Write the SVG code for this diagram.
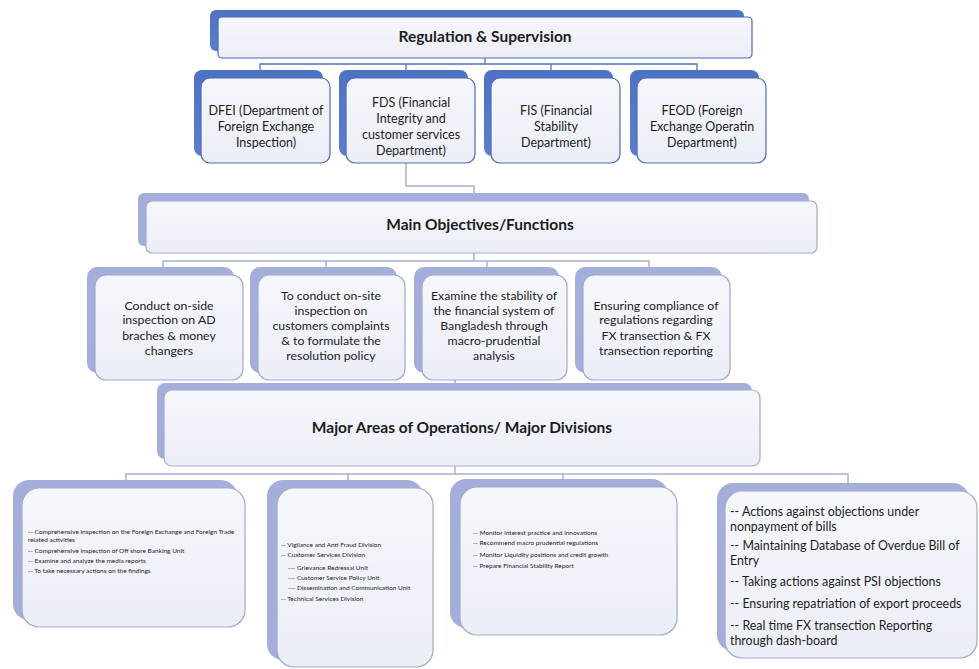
<svg xmlns="http://www.w3.org/2000/svg" width="979" height="669" viewBox="0 0 979 669">
<defs>
<linearGradient id="gf" x1="0" y1="0" x2="0" y2="1">
<stop offset="0" stop-color="#F6F7FC"/>
<stop offset="1" stop-color="#ECEEF7"/>
</linearGradient>
<linearGradient id="gs" x1="0" y1="0" x2="0" y2="1">
<stop offset="0" stop-color="#4E72C3"/>
<stop offset="1" stop-color="#5C7FCC"/>
</linearGradient>
</defs>
<style>
.sb{fill:url(#gs)}
.sl{fill:#A4AEDB}
.fb{fill:url(#gf);stroke:#4A6BB5;stroke-width:1.2}
.fl{fill:url(#gf);stroke:#A3A9CB;stroke-width:1.2}
text{font-family:Lato,"Liberation Sans",sans-serif;fill:#1c1c1c}
.t{font-size:15.5px;font-weight:bold;text-anchor:middle}
.m{font-size:12.5px;text-anchor:middle}
.o{font-size:12.3px;text-anchor:middle}
.s{font-size:6.5px}
.b{font-size:12.4px}
.cb{fill:none;stroke:#4F74C4;stroke-width:1.3}
.cl{fill:none;stroke:#A9B0D6;stroke-width:1.5}
</style>
<rect width="979" height="669" fill="#FFFFFF"/>
<g id="connectors">
<path class="cb" d="M485 58V64M260 70V64H697V70M406 64V70M551 64V70"/>
<path class="cl" d="M406 163V186H474V193"/>
<path class="cl" d="M474 253V261M163 268V261H649V268M326 261V268M487 261V268"/>
<path class="cl" d="M455 380V384"/>
<path class="cl" d="M455 466V474M126 481V474H848V484M348 474V481M563 474V480"/>
</g>
<g id="n-reg">
<rect class="sb" x="210" y="10" width="534" height="41" rx="6"/>
<rect class="fb" x="218" y="17" width="534" height="41" rx="4"/>
<text class="t" x="485" y="42">Regulation &amp; Supervision</text>
</g>
<g id="n-dfei">
<rect class="sb" x="194" y="70" width="129" height="86" rx="8"/>
<rect class="fb" x="201" y="78" width="129" height="85" rx="9"/>
<text class="m" x="266" y="115">DFEI (Department of</text>
<text class="m" x="266" y="131">Foreign Exchange</text>
<text class="m" x="266" y="147">Inspection)</text>
</g>
<g id="n-fds">
<rect class="sb" x="339" y="70" width="129" height="86" rx="8"/>
<rect class="fb" x="346" y="78" width="129" height="85" rx="9"/>
<text class="m" x="411" y="107">FDS (Financial</text>
<text class="m" x="411" y="123">Integrity and</text>
<text class="m" x="411" y="139">customer services</text>
<text class="m" x="411" y="155">Department)</text>
</g>
<g id="n-fis">
<rect class="sb" x="484" y="70" width="129" height="86" rx="8"/>
<rect class="fb" x="491" y="78" width="129" height="85" rx="9"/>
<text class="m" x="556" y="115">FIS (Financial</text>
<text class="m" x="556" y="131">Stability</text>
<text class="m" x="556" y="147">Department)</text>
</g>
<g id="n-feod">
<rect class="sb" x="630" y="70" width="129" height="86" rx="8"/>
<rect class="fb" x="637" y="78" width="129" height="85" rx="9"/>
<text class="m" x="702" y="115">FEOD (Foreign</text>
<text class="m" x="702" y="131">Exchange Operatin</text>
<text class="m" x="702" y="147">Department)</text>
</g>
<g id="n-main">
<rect class="sl" x="138" y="193" width="671" height="53" rx="6"/>
<rect class="fl" x="146" y="201" width="671" height="52" rx="6"/>
<text class="t" x="480" y="230">Main Objectives/Functions</text>
</g>
<g id="n-o1">
<rect class="sl" x="87" y="267" width="147" height="106" rx="10"/>
<rect class="fl" x="95" y="275" width="148" height="105" rx="11"/>
<text class="o" x="169" y="310">Conduct on-side</text>
<text class="o" x="169" y="324">inspection on AD</text>
<text class="o" x="169" y="340">braches &amp; money</text>
<text class="o" x="169" y="355">changers</text>
</g>
<g id="n-o2">
<rect class="sl" x="250" y="267" width="147" height="106" rx="10"/>
<rect class="fl" x="258" y="275" width="147" height="105" rx="11"/>
<text class="o" x="331" y="300">To conduct on-site</text>
<text class="o" x="331" y="315">inspection on</text>
<text class="o" x="331" y="330">customers complaints</text>
<text class="o" x="331" y="345">&amp; to formulate the</text>
<text class="o" x="331" y="360">resolution policy</text>
</g>
<g id="n-o3">
<rect class="sl" x="414" y="267" width="145" height="106" rx="10"/>
<rect class="fl" x="422" y="275" width="145" height="105" rx="11"/>
<text class="o" x="494" y="300">Examine the stability of</text>
<text class="o" x="494" y="315">the financial system of</text>
<text class="o" x="494" y="330">Bangladesh through</text>
<text class="o" x="494" y="345">macro-prudential</text>
<text class="o" x="494" y="360">analysis</text>
</g>
<g id="n-o4">
<rect class="sl" x="575" y="267" width="147" height="106" rx="10"/>
<rect class="fl" x="583" y="275" width="147" height="105" rx="11"/>
<text class="o" x="656" y="310">Ensuring compliance of</text>
<text class="o" x="656" y="324">regulations regarding</text>
<text class="o" x="656" y="340">FX transection &amp; FX</text>
<text class="o" x="656" y="355">transection reporting</text>
</g>
<g id="n-major">
<rect class="sl" x="157" y="383" width="595" height="76" rx="8"/>
<rect class="fl" x="164" y="390" width="596" height="76" rx="8"/>
<text class="t" x="462" y="433">Major Areas of Operations/ Major Divisions</text>
</g>
<g id="n-d1">
<rect class="sl" x="13" y="480" width="224" height="140" rx="16"/>
<rect class="fl" x="22" y="488" width="223" height="139" rx="17"/>
<text class="s" x="28" y="534">-- Comprehensive inspection on the Foreign Exchange and Foreign Trade</text>
<text class="s" x="28" y="542">related activities</text>
<text class="s" x="28" y="553">-- Comprehensive inspection of Off shore Banking Unit</text>
<text class="s" x="28" y="563">-- Examine and analyze the media reports</text>
<text class="s" x="28" y="573">-- To take necessary actions on the findings</text>
</g>
<g id="n-d2">
<rect class="sl" x="267" y="480" width="156" height="180" rx="16"/>
<rect class="fl" x="277" y="488" width="156" height="179" rx="17"/>
<text class="s" x="281" y="547">-- Vigilance and Anti Fraud Division</text>
<text class="s" x="281" y="557">-- Customer Services Division</text>
<text class="s" x="288" y="570">--- Grievance Redressal Unit</text>
<text class="s" x="288" y="580">--- Customer Service Policy Unit</text>
<text class="s" x="288" y="590">--- Dissemination and Communication Unit</text>
<text class="s" x="281" y="601">-- Technical Services Division</text>
</g>
<g id="n-d3">
<rect class="sl" x="450" y="479" width="218" height="149" rx="16"/>
<rect class="fl" x="460" y="487" width="217" height="148" rx="17"/>
<text class="s" x="473" y="535">-- Monitor interest practice and innovations</text>
<text class="s" x="473" y="545">-- Recommend macro prudential regulations</text>
<text class="s" x="473" y="557">-- Monitor Liquidity positions and credit growth</text>
<text class="s" x="473" y="568">-- Prepare Financial Stability Report</text>
</g>
<g id="n-d4">
<rect class="sl" x="717" y="483" width="252" height="168" rx="16"/>
<rect class="fl" x="725" y="491" width="252" height="167" rx="17"/>
<text class="b" x="730" y="516">-- Actions against objections under</text>
<text class="b" x="730" y="531">nonpayment of bills</text>
<text class="b" x="730" y="550">-- Maintaining Database of Overdue Bill of</text>
<text class="b" x="730" y="565">Entry</text>
<text class="b" x="730" y="586">-- Taking actions against PSI objections</text>
<text class="b" x="730" y="608">-- Ensuring repatriation of export proceeds</text>
<text class="b" x="730" y="630">-- Real time FX transection Reporting</text>
<text class="b" x="730" y="645">through dash-board</text>
</g>
</svg>
